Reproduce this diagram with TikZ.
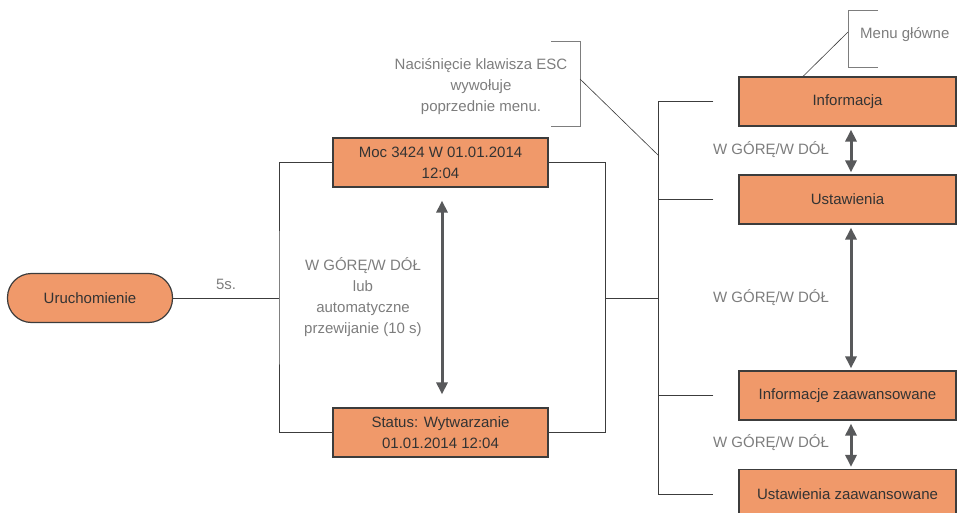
\documentclass[tikz,border=0pt]{standalone}
\usepackage{fontspec}
\setmainfont{Liberation Sans}
\definecolor{BoxOrange}{RGB}{240,153,106}
\definecolor{EdgeDark} {RGB}{60,60,60}
\definecolor{NoteGray} {RGB}{125,125,125}
\definecolor{ArrowGray}{RGB}{88,89,91}
\usetikzlibrary{arrows.meta,positioning,calc}

\begin{document}
\begin{tikzpicture}[x=1pt,y=-1pt,
    every node/.style={font=\fontsize{15}{21}\selectfont},
    menubox/.style={draw=EdgeDark,fill=BoxOrange,line width=1.2pt,
      minimum width=217pt,minimum height=49pt,inner sep=0pt,
      align=center,text=black!80},
    pill/.style={menubox,rounded corners=24pt,minimum width=165pt},
    note/.style={text=NoteGray,align=center,inner sep=0pt},
    link/.style={draw=EdgeDark,line width=0.8pt},
    updown/.style={{Triangle[length=12pt,width=11pt]}-{Triangle[length=12pt,width=11pt]},
      ArrowGray,line width=3pt}]
  \useasboundingbox (0,0) rectangle (957,513);

  % start and the two status screens
  \node[pill] (start) at (90,298) {Uruchomienie};
  \node[menubox,minimum width=215pt] (moc) at (440.5,162.5)
    {Moc 3424 W 01.01.2014\\12:04};
  \node[menubox,minimum width=215pt] (status) at (440.5,432.5)
    {Status: Wytwarzanie\\01.01.2014 12:04};
  \coordinate (split) at (279,298);
  \coordinate (join) at (605,298);
  \draw[link] (start.east) -- (split)
    node[midway,above=8pt,note] {5s.};
  \draw[link] (moc.west) -| (split) |- (status.west);
  \draw[link] (moc.east) -| (join) |- (status.east);
  \draw[updown,shorten <=13pt,shorten >=13pt]
    ([xshift=1.5pt]moc.south) -- ([xshift=1.5pt]status.north);
  \node[note] (scroll) at (363,297)
    {W GÓRĘ/W DÓŁ\\lub\\automatyczne\\przewijanie (10 s)};

  % main menu
  \node[menubox] (info) at (847.5,101.5) {Informacja};
  \node[menubox] (ust) at (847.5,199.5) {Ustawienia};
  \node[menubox] (infz) at (847.5,395.5) {Informacje zaawansowane};
  \node[menubox] (ustz) at (847.5,494) {Ustawienia zaawansowane};
  \coordinate (trunk) at (659,298);
  \draw[link] (join) -- (trunk);
  \draw[link] ([xshift=-25pt]info.west) -| ([xshift=-80pt]ustz.west)
    -- ([xshift=-25pt]ustz.west);
  \draw[link] ([xshift=-25pt]ust.west) -- ([xshift=-80pt]ust.west);
  \draw[link] ([xshift=-25pt]infz.west) -- ([xshift=-80pt]infz.west);

  \draw[updown,shorten <=3pt,shorten >=2pt]
    ([xshift=3.5pt]info.south) -- ([xshift=3.5pt]ust.north);
  \draw[updown,shorten <=3pt,shorten >=2pt]
    ([xshift=3.5pt]ust.south) -- ([xshift=3.5pt]infz.north);
  \draw[updown,shorten <=3pt,shorten >=2pt]
    ([xshift=3.5pt]infz.south) -- ([xshift=3.5pt]ustz.north);
  \node[note] (lab1) at (771,150) {W GÓRĘ/W DÓŁ};
  \node[note] (lab2) at (771,298) {W GÓRĘ/W DÓŁ};
  \node[note] (lab3) at (771,443) {W GÓRĘ/W DÓŁ};

  % callouts
  \node[note] (esc) at (481,87)
    {Naciśnięcie klawisza ESC\\wywołuje\\poprzednie menu.};
  \coordinate (escb) at (580,79);
  \coordinate (escend) at (659,156);
  \draw[link,NoteGray] (551,41) -| (580,126) -- (551,126);
  \draw[link,line width=0.6pt] (escb) -- (escend);
  \node[note,anchor=west] (menu) at (860,35) {Menu główne};
  \coordinate (menub) at (848,32);
  \draw[link,NoteGray] (878,10) -| (848,67) -- (878,67);
  \draw[link,line width=0.6pt] (menub) -- ([xshift=-44.5pt]info.north);
\end{tikzpicture}
\end{document}
